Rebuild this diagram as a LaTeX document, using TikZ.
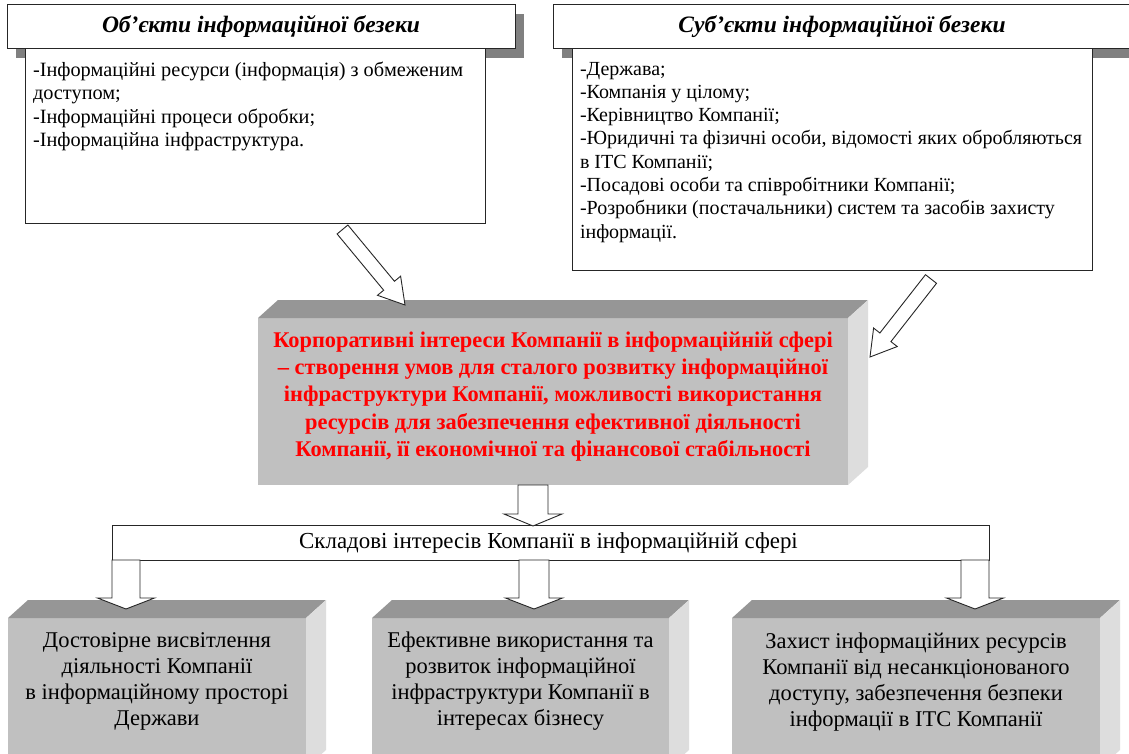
\documentclass[tikz,border=0pt]{standalone}
\usepackage{fontspec}
\setmainfont{Liberation Serif}
\usetikzlibrary{calc,backgrounds}

\definecolor{shadowgray}{HTML}{808080}
\definecolor{facefront}{HTML}{C0C0C0}
\definecolor{facetop}{HTML}{969696}
\definecolor{faceside}{HTML}{DDDDDD}
\definecolor{keyred}{HTML}{FF0000}
\definecolor{edgeblack}{HTML}{262626}

% top and right faces of a raised box, drawn from the anchors of its front face
\newcommand\depthfaces[1]{%
  \fill[facetop] (#1.north west) -- ++(20,-18) -- ($(#1.north east)+(20,-18)$) -- (#1.north east) -- cycle;
  \fill[faceside] (#1.north east) -- ++(20,-18) -- ($(#1.south east)+(20,-18)$) -- (#1.south east) -- cycle;
}

% hollow block arrow: tail, tip, shaft half width, head half width, head length
\newcommand\hollowarrow[5]{%
  \path ($(#2)!#5!(#1)$) coordinate (neck);
  \draw[arrowline] ($(#1)!#3!90:(#2)$) -- ($(neck)!#3!90:(#2)$) -- ($(neck)!#4!90:(#2)$)
    -- (#2) -- ($(neck)!#4!-90:(#2)$) -- ($(neck)!#3!-90:(#2)$) -- ($(#1)!#3!-90:(#2)$) -- cycle;
}

\begin{document}
\begin{tikzpicture}[x=1pt,y=-1pt,
  every node/.style={inner sep=0pt, outer sep=0pt},
  plainbox/.style={draw=edgeblack, line width=1pt, fill=white, anchor=north west},
  frontface/.style={fill=facefront, anchor=north west},
  arrowline/.style={draw=edgeblack, line width=0.9pt, fill=white, line join=miter},
  listtext/.style={font=\fontsize{20.3}{23.3}\selectfont, align=left, anchor=north west},
  headfont/.style={font=\fontsize{23.5}{27}\selectfont\bfseries\itshape},
  coretext/.style={font=\fontsize{22.4}{27.4}\selectfont\bfseries, text=keyred, align=center},
  basetext/.style={font=\fontsize{22.5}{26}\selectfont, align=center},
]
\useasboundingbox (0,0) rectangle (1129,754);
\clip (0,0) rectangle (1129,754);
\begin{scope}[on background layer]
  \fill[white] (0,0) rectangle (1129,754);
\end{scope}

% objects of information security
\node[plainbox, headfont, minimum width=508pt, minimum height=44pt] (lhead) at (7,5)
  {Об’єкти інформаційної безеки};
\begin{scope}[on background layer]
  \fill[shadowgray] ($(lhead.north west)+(9,9)$) rectangle ($(lhead.south east)+(9,9)$);
\end{scope}
\node[plainbox, minimum width=460pt, minimum height=174pt] (lbody) at (25,49) {};
\node[listtext] (ltext) at (33,62)
  {-Інформаційні ресурси (інформація) з обмеженим\\
   доступом;\\
   -Інформаційні процеси обробки;\\
   -Інформаційна інфраструктура.};

% subjects of information security
\node[plainbox, headfont, minimum width=578pt, minimum height=44pt] (rhead) at (553,5)
  {Суб’єкти інформаційної безеки};
\begin{scope}[on background layer]
  \fill[shadowgray] ($(rhead.north west)+(9,9)$) rectangle ($(rhead.south east)+(9,9)$);
\end{scope}
\node[plainbox, minimum width=520pt, minimum height=221pt] (rbody) at (572,49) {};
\node[listtext, font=\fontsize{20}{23.3}\selectfont] (rtext) at (580,62)
  {-Держава;\\
   -Компанія у цілому;\\
   -Керівництво Компанії;\\
   -Юридичні та фізичні особи, відомості яких обробляються\\
   в ІТС Компанії;\\
   -Посадові особи та співробітники Компанії;\\
   -Розробники (постачальники) систем та засобів захисту\\
   інформації.};

% corporate interests
\node[frontface, minimum width=590pt, minimum height=167pt] (core) at (258,318) {};
\depthfaces{core}
\node[coretext] (coretxt) at ($(core.center)+(0,-5)$)
  {Корпоративні інтереси Компанії в інформаційній сфері\\
   – створення умов для сталого розвитку інформаційної\\
   інфраструктури Компанії, можливості використання\\
   ресурсів для забезпечення ефективної діяльності\\
   Компанії, її економічної та фінансової стабільності};

% components of the interests
\node[plainbox, minimum width=877pt, minimum height=35pt] (bar) at (112,525) {};
\node[font=\fontsize{22.9}{26}\selectfont] (bartxt) at ($(bar.center)+(-2,0)$)
  {Складові інтересів Компанії в інформаційній сфері};

\node[frontface, minimum width=298pt, minimum height=150pt] (b1) at (8,618) {};
\depthfaces{b1}
\node[basetext] (b1txt) at ($(b1.north)+(0,63)$)
  {Достовірне висвітлення\\
   діяльності Компанії\\
   в інформаційному просторі\\
   Держави};

\node[frontface, minimum width=297pt, minimum height=150pt] (b2) at (372,618) {};
\depthfaces{b2}
\node[basetext] (b2txt) at ($(b2.north)+(0,63)$)
  {Ефективне використання та\\
   розвиток інформаційної\\
   інфраструктури Компанії в\\
   інтересах бізнесу};

\node[frontface, minimum width=368pt, minimum height=150pt] (b3) at (732,618) {};
\depthfaces{b3}
\node[basetext] (b3txt) at ($(b3.north)+(0,64)$)
  {Захист інформаційних ресурсів\\
   Компанії від несанкціонованого\\
   доступу, забезпечення безпеки\\
   інформації в ІТС Компанії};

% block arrows
\coordinate (a1s) at (342.5,229.5);
\coordinate (a1e) at (405,305);
\hollowarrow{a1s}{a1e}{7pt}{15pt}{25pt}

\coordinate (a2s) at (931,279);
\coordinate (a2e) at (870,357);
\hollowarrow{a2s}{a2e}{7pt}{15pt}{25pt}

\coordinate (a3s) at (533,485);
\coordinate (a3e) at (533,526);
\hollowarrow{a3s}{a3e}{15pt}{29pt}{12pt}

\coordinate (a4s) at (126,560);
\coordinate (a4e) at (126,609);
\hollowarrow{a4s}{a4e}{14pt}{28.5pt}{11pt}

\coordinate (a5s) at (534,560);
\coordinate (a5e) at (534,609);
\hollowarrow{a5s}{a5e}{15pt}{28.5pt}{11pt}

\coordinate (a6s) at (975,560);
\coordinate (a6e) at (975,609);
\hollowarrow{a6s}{a6e}{14pt}{28.5pt}{11pt}
\end{tikzpicture}
\end{document}
